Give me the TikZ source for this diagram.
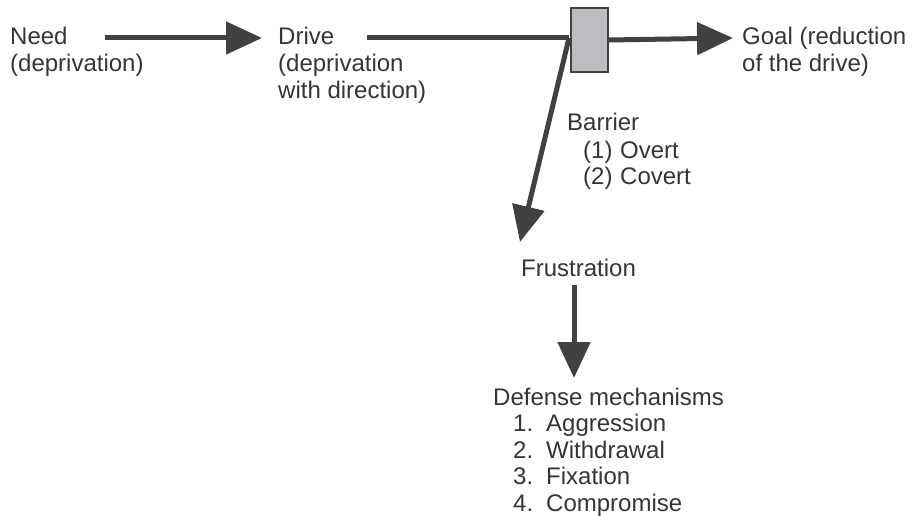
\documentclass[tikz,border=0pt]{standalone}
\usepackage{fontspec}
\setmainfont{Liberation Sans}
\usetikzlibrary{arrows.meta}
\definecolor{ink}{HTML}{414141}
\definecolor{txt}{HTML}{353535}
\definecolor{barfill}{HTML}{BBBDC0}
\begin{document}
\begin{tikzpicture}[x=1pt,y=-1pt,
  lbl/.style={font=\fontsize{24}{27}\selectfont, text=txt, inner sep=0pt, anchor=base west},
  arr/.style={draw=ink, line width=5pt, -{Triangle[length=36pt,width=32pt]}},
  seg/.style={draw=ink, line width=5pt}]
\useasboundingbox (0,0) rectangle (913,516);
\fill[white] (0,0) rectangle (913,516);
% texts
\node[lbl] (need1) at (10,45) {Need};
\node[lbl] (need2) at (10,72) {(deprivation)};
\node[lbl] (drive1) at (278,45) {Drive};
\node[lbl] (drive2) at (278,72) {(deprivation};
\node[lbl] (drive3) at (278,99) {with direction)};
\node[lbl] (goal1) at (742,45) {Goal (reduction};
\node[lbl] (goal2) at (742,72) {of the drive)};
\node[lbl] (bar0) at (567,131) {Barrier};
\node[lbl] (bar1n) at (583,158) {(1)};
\node[lbl] (bar1) at (620,158) {Overt};
\node[lbl] (bar2n) at (583,184) {(2)};
\node[lbl] (bar2) at (620,184) {Covert};
\node[lbl] (frust) at (521,276) {Frustration};
\node[lbl] (def0) at (493,405) {Defense mechanisms};
\node[lbl] (d1n) at (513,431) {1.};
\node[lbl] (d1) at (546,431) {Aggression};
\node[lbl] (d2n) at (513,458) {2.};
\node[lbl] (d2) at (546,458) {Withdrawal};
\node[lbl] (d3n) at (513,484) {3.};
\node[lbl] (d3) at (546,484) {Fixation};
\node[lbl] (d4n) at (513,511) {4.};
\node[lbl] (d4) at (546,511) {Compromise};
% connector end points
\coordinate (a1s) at (105,38);
\coordinate (a1e) at (262,38);
\coordinate (a2s) at (367,38);
\coordinate (split) at (569,38);
\coordinate (goalpt) at (733,38);
\coordinate (frustpt) at (520,242);
\coordinate (a5s) at (574,285);
\coordinate (a5e) at (574,378);
% connectors
\draw[arr] (a1s) -- (a1e);
\draw[seg] (a2s) -- (split);
\draw[arr] (split) -- (frustpt);
\node[draw=ink, fill=barfill, line width=1.5pt, minimum width=37pt, minimum height=64pt, inner sep=0pt] (barrier) at (589.5,40) {};
\draw[arr] (barrier.east) -- (goalpt);
\draw[arr] (a5s) -- (a5e);
\end{tikzpicture}
\end{document}
